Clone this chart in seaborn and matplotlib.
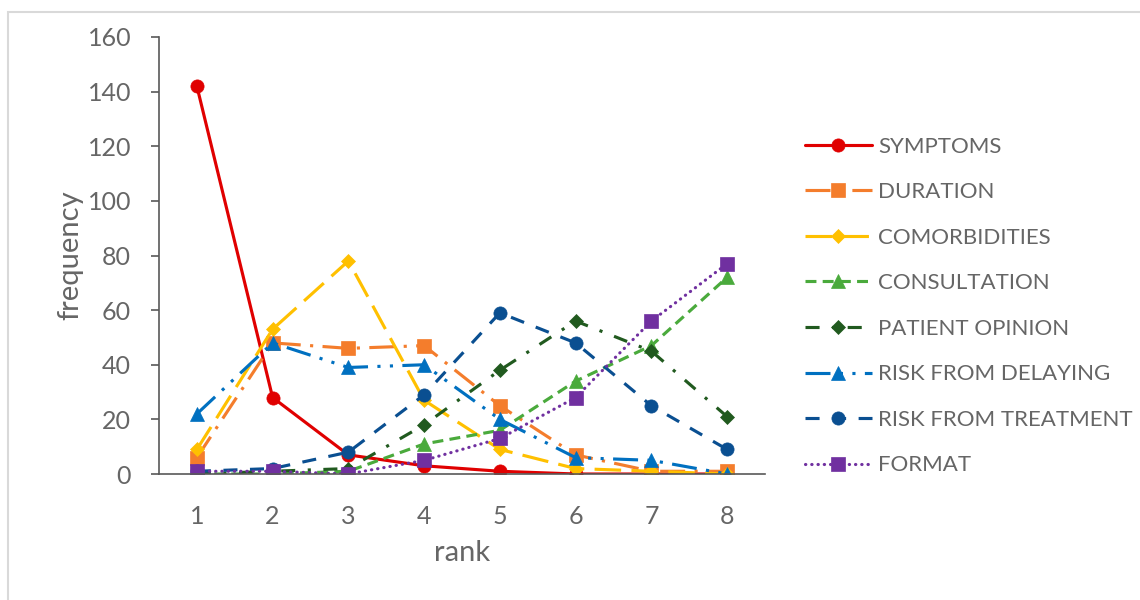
import matplotlib
matplotlib.use('Agg')
import matplotlib.pyplot as plt
import seaborn as sns
from matplotlib.patches import Rectangle

# chart data
ranks = [1, 2, 3, 4, 5, 6, 7, 8]
series_names = ['SYMPTOMS', 'DURATION', 'COMORBIDITIES', 'CONSULTATION',
                'PATIENT OPINION', 'RISK FROM DELAYING', 'RISK FROM TREATMENT', 'FORMAT']
symptoms = [142, 28, 7, 3, 1, 0, 0, 0]
duration = [6, 48, 46, 47, 25, 7, 1, 1]
comorbidities = [9, 53, 78, 27, 9, 2, 1, 0]
consultation = [0, 0, 1, 11, 16, 34, 47, 72]
patient_opinion = [0, 1, 2, 18, 38, 56, 45, 21]
risk_delaying = [22, 48, 39, 40, 20, 6, 5, 0]
risk_treatment = [1, 2, 8, 29, 59, 48, 25, 9]
format_vals = [1, 1, 0, 5, 13, 28, 56, 77]
y_ticks = [0, 20, 40, 60, 80, 100, 120, 140, 160]

values = [symptoms, duration, comorbidities, consultation,
          patient_opinion, risk_delaying, risk_treatment, format_vals]

# styles (Excel-like)
colors = ['#E00000', '#F47D2C', '#FFC000', '#4AAA3C',
          '#215A1F', '#0070C0', '#0A4F91', '#7030A0']
markers = ['o', 's', 'D', '^', 'D', '^', 'o', 's']
msizes = [9.5, 9.5, 7.5, 10, 7.5, 10, 9.5, 9.5]
styles = ['-', (0, (8, 3, 1, 3)), (0, (8.5, 3.3)), (0, (3.5, 2)),
          (0, (4.5, 4, 1, 4)), (0, (8, 3, 1, 3, 1, 3)), (0, (4.5, 4)), (0, (0.1, 1.9))]

TEXT = '#666666'
AXIS = '#595959'

sns.set_style('white')
plt.rcParams['font.family'] = ['Lato', 'DejaVu Sans']

fig = plt.figure(figsize=(11.4, 6), dpi=100)
ax = fig.add_axes([159 / 1140, 1 - 474 / 600, (765 - 159) / 1140, (474 - 37) / 600])

for name, vals, c, m, ms, ls in zip(series_names, values, colors, markers, msizes, styles):
    sns.lineplot(x=ranks, y=vals, ax=ax, color=c, marker=m, markersize=ms,
                 markeredgecolor=c, markeredgewidth=0.5, linestyle=ls, linewidth=2.25,
                 dash_capstyle='round' if name == 'FORMAT' else 'butt',
                 label=name, legend=False)

ax.set_xlim(0.5, 8.5)
ax.set_ylim(0, 160)
ax.set_yticks(y_ticks)
ax.set_xticks(ranks)
ax.set_xticklabels([str(r) for r in ranks])

for side in ['top', 'right']:
    ax.spines[side].set_visible(False)
for side in ['left', 'bottom']:
    ax.spines[side].set_color(AXIS)
    ax.spines[side].set_linewidth(1.2)

ax.tick_params(axis='y', left=True, length=6, width=1.2, color=AXIS, pad=14,
               labelsize=18, labelcolor=TEXT)
ax.tick_params(axis='x', bottom=False, length=0, pad=22, labelsize=18, labelcolor=TEXT)

ax.set_xlabel('rank', fontsize=21, color=TEXT, labelpad=9)
ax.set_ylabel('frequency', fontsize=21, color=TEXT, labelpad=3)

ax.legend(loc='center left', bbox_to_anchor=(805 / 1140, 1 - 306 / 600),
          bbox_transform=fig.transFigure, frameon=False, fontsize=16,
          labelcolor=TEXT, handlelength=3.0, handletextpad=0.3,
          labelspacing=1.15, borderpad=0, borderaxespad=0, numpoints=1)

# light chart-area border
fig.patches.append(Rectangle((8 / 1140, -0.05), 1.0, 1.04 - 6 / 600,
                             transform=fig.transFigure, fill=False,
                             edgecolor='#D9D9D9', linewidth=1.5))

fig.savefig('out.png', dpi=100)
